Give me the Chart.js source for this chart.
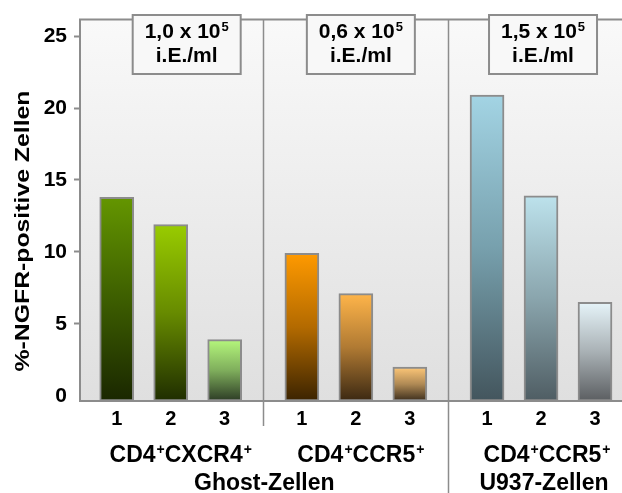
<!DOCTYPE html>
<html>
<head>
<meta charset="utf-8">
<script src="https://cdn.jsdelivr.net/npm/chart.js@4/dist/chart.umd.min.js"></script>
<style>
  html, body { margin: 0; padding: 0; background: #ffffff; }
  #wrap { width: 622px; height: 493px; }
</style>
</head>
<body>
<div id="wrap"><canvas id="chart" width="622" height="493"></canvas></div>
<script>
// ---- data ----
const barLabels  = ['1', '2', '3', '1', '2', '3', '1', '2', '3'];
const barGroup   = [0, 0, 0, 1, 1, 1, 2, 2, 2];
const values     = [13.8, 11.9, 3.9, 9.9, 7.1, 2.0, 20.9, 13.9, 6.5];
const yTicks     = [0, 5, 10, 15, 20, 25];
const doses      = ['1,0 x 10^5', '0,6 x 10^5', '1,5 x 10^5'];
const doseUnit   = 'i.E./ml';
const markers    = ['CD4^+CXCR4^+', 'CD4^+CCR5^+', 'CD4^+CCR5^+'];
const cellTypes  = ['Ghost-Zellen', 'U937-Zellen'];
const cellGroups = [[0, 1], [2]];
const yTitle     = '%-NGFR-positive Zellen';

// ---- layout / style ----
const FONT = '"Liberation Sans", Arial, Helvetica, sans-serif';
const FRAME = '#8c8c8c';
const Y_MIN = -0.365, Y_MAX = 26.15;
const GROUP_STRIDE = 3.43;          // distance between groups, in bar slots
const X_MIN = -0.68, X_MAX = 9.36;
const boxOffset = [16, 5, 2];       // px shift of the dose boxes from group centre
const markerOffset = [10, 5, 6];    // px shift of first label row
const typeOffset = [1, 3];

// top / middle / bottom colours of each bar's vertical gradient
const barShades = [
  ['#649600', '#3d5e00', '#1a2700'],
  ['#99cc00', '#678b00', '#1f2d00'],
  ['#b5f77c', '#7fae5c', '#2c3b25'],
  ['#ff9a00', '#b36a00', '#3b2300'],
  ['#ffb54a', '#b07a33', '#3b2812'],
  ['#ffc878', '#b08a55', '#3b2d1c'],
  ['#a3d4e4', '#77a0ad', '#43555d'],
  ['#bde2ec', '#8aa5ad', '#4f5d63'],
  ['#e6f4f9', '#a9b1b5', '#5b5e61']
];

const xPositions = barLabels.map((l, i) => barGroup[i] * GROUP_STRIDE + (Number(l) - 1));
const groupCentre = g => g * GROUP_STRIDE + 1;

// draws text with "^x" meaning superscript x, centred at cx, baseline at y
function richText(ctx, str, cx, baseY, size) {
  const parts = [];
  for (let i = 0; i < str.length; i++) {
    if (str[i] === '^' && i + 1 < str.length) { parts.push({t: str[i + 1], sup: true}); i++; }
    else {
      const last = parts[parts.length - 1];
      if (last && !last.sup) last.t += str[i]; else parts.push({t: str[i], sup: false});
    }
  }
  const supSize = Math.round(size * 0.6);
  let total = 0;
  parts.forEach(p => {
    ctx.font = 'bold ' + (p.sup ? supSize : size) + 'px ' + FONT;
    p.w = ctx.measureText(p.t).width + (p.sup ? 1 : 0);
    total += p.w;
  });
  let x = cx - total / 2;
  ctx.textAlign = 'left';
  ctx.textBaseline = 'alphabetic';
  parts.forEach(p => {
    ctx.font = 'bold ' + (p.sup ? supSize : size) + 'px ' + FONT;
    ctx.fillText(p.t, x + (p.sup ? 1 : 0), p.sup ? baseY - size * 0.34 : baseY);
    x += p.w;
  });
}

const decor = {
  id: 'decor',
  beforeDraw(chart) {
    const {ctx, chartArea: a} = chart;
    ctx.save();
    const g = ctx.createLinearGradient(0, a.top, 0, a.bottom);
    g.addColorStop(0, '#f9f9f9');
    g.addColorStop(1, '#dfdfdf');
    ctx.fillStyle = g;
    ctx.fillRect(a.left, a.top, a.right - a.left, a.bottom - a.top);
    ctx.restore();
  },
  beforeDatasetsDraw(chart) {
    const {ctx, chartArea: a, scales: {x}} = chart;
    ctx.save();
    ctx.strokeStyle = FRAME;
    ctx.lineWidth = 2;
    ctx.beginPath();
    ctx.moveTo(a.left - 1, a.top);
    ctx.lineTo(a.right, a.top);
    ctx.stroke();
    // panel separators between the groups
    ctx.lineWidth = 1.5;
    const ends = [426, chart.height];
    for (let g = 0; g < 2; g++) {
      const v = (groupCentre(g) + 1 + groupCentre(g + 1) - 1) / 2;
      const px = Math.round(x.getPixelForValue(v)) + 0.5;
      ctx.beginPath();
      ctx.moveTo(px, a.top);
      ctx.lineTo(px, ends[g]);
      ctx.stroke();
    }
    ctx.restore();
  },
  afterDraw(chart) {
    const {ctx, scales: {x}} = chart;
    ctx.save();
    ctx.fillStyle = '#000';
    // dose boxes
    doses.forEach((d, g) => {
      const cx = x.getPixelForValue(groupCentre(g)) + boxOffset[g];
      const w = 108, h = 59, top = 15;
      ctx.fillStyle = '#f8f8f8';
      ctx.fillRect(cx - w / 2, top, w, h);
      ctx.strokeStyle = FRAME;
      ctx.lineWidth = 2;
      ctx.strokeRect(cx - w / 2, top, w, h);
      ctx.fillStyle = '#000';
      richText(ctx, d, cx, 38, 21);
      richText(ctx, doseUnit, cx, 62, 21);
    });
    // group labels
    markers.forEach((m, g) => {
      const cx = x.getPixelForValue(groupCentre(g)) + markerOffset[g];
      richText(ctx, m, cx, 462, 23);
    });
    cellTypes.forEach((t, k) => {
      const gs = cellGroups[k];
      const v = gs.reduce((s, g) => s + groupCentre(g), 0) / gs.length;
      richText(ctx, t, x.getPixelForValue(v) + typeOffset[k], 490, 23);
    });
    // y axis title, slightly widened along its run
    ctx.translate(23, 231);
    ctx.rotate(-Math.PI / 2);
    ctx.scale(1.18, 1);
    ctx.font = 'bold 21px ' + FONT;
    ctx.textAlign = 'center';
    ctx.textBaseline = 'middle';
    ctx.fillText(yTitle, 0, 0);
    ctx.restore();
  }
};

function barFill(c) {
  const i = c.dataIndex;
  const chart = c.chart;
  const y = chart.scales && chart.scales.y;
  if (c.type !== 'data' || !y || !chart.chartArea) return barShades[i][0];
  const top = y.getPixelForValue(values[i]);
  const bottom = y.getPixelForValue(Y_MIN);
  const g = chart.ctx.createLinearGradient(0, top, 0, bottom);
  g.addColorStop(0, barShades[i][0]);
  g.addColorStop(0.5, barShades[i][1]);
  g.addColorStop(1, barShades[i][2]);
  return g;
}

new Chart(document.getElementById('chart'), {
  type: 'bar',
  data: {
    datasets: [{
      data: values.map((v, i) => ({x: xPositions[i], y: v})),
      base: Y_MIN,
      barThickness: 34,
      backgroundColor: barFill,
      borderColor: FRAME,
      borderWidth: 2,
      borderSkipped: false
    }]
  },
  options: {
    responsive: false,
    devicePixelRatio: 1,
    animation: false,
    events: [],
    layout: { padding: { top: 9, right: 0, left: 0, bottom: 0 } },
    plugins: { legend: { display: false }, tooltip: { enabled: false } },
    scales: {
      x: {
        type: 'linear',
        min: X_MIN,
        max: X_MAX,
        offset: false,
        afterBuildTicks: s => { s.ticks = xPositions.map(v => ({value: v})); },
        afterFit: s => { s.height = 92; },
        ticks: {
          autoSkip: false,
          maxRotation: 0,
          padding: 6,
          color: '#000',
          font: { family: FONT, size: 20, weight: 'bold' },
          callback: (v, i) => barLabels[i]
        },
        grid: { display: false, drawTicks: false, offset: false },
        border: { display: true, color: FRAME, width: 2 }
      },
      y: {
        min: Y_MIN,
        max: Y_MAX,
        afterBuildTicks: s => { s.ticks = yTicks.map(v => ({value: v})); },
        afterFit: s => { s.width = 80; },
        ticks: {
          padding: 7,
          color: '#000',
          font: { family: FONT, size: 21, weight: 'bold' }
        },
        grid: {
          drawOnChartArea: false,
          tickLength: 6,
          tickWidth: 2,
          color: c => (c.tick && c.tick.value === 0) ? 'rgba(0,0,0,0)' : FRAME
        },
        border: { display: true, color: FRAME, width: 2 }
      }
    }
  },
  plugins: [decor]
});
</script>
</body>
</html>
